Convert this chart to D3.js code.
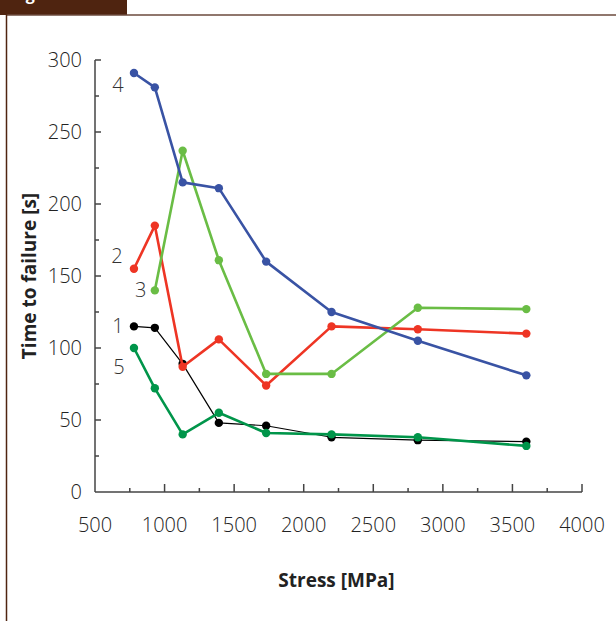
<!DOCTYPE html>
<html>
<head>
<meta charset="utf-8">
<script src="https://cdn.jsdelivr.net/npm/d3@7"></script>
<style>
    body { margin: 0; background: #fff; }
    svg { display: block; font-family: "Open Sans", sans-serif; }
</style>
</head>
<body>
<svg id="drawing_region"></svg>
<script>
// stress values [MPa] shared by all curves
const stress = [780, 930, 1130, 1390, 1730, 2200, 2820, 3600];

// time to failure [s], one array per curve (null = no point)
const series1 = [115, 114, 89, 48, 46, 38, 36, 35];
const series2 = [155, 185, 87, 106, 74, 115, 113, 110];
const series3 = [null, 140, 237, 161, 82, 82, 128, 127];
const series4 = [291, 281, 215, 211, 160, 125, 105, 81];
const series5 = [100, 72, 40, 55, 41, 40, 38, 32];

const series_names = ['1', '2', '3', '4', '5'];
const xticks = [500, 1000, 1500, 2000, 2500, 3000, 3500, 4000];
const yticks = [0, 50, 100, 150, 200, 250, 300];

const series_style = [
    { color: '#000000', width: 1.2, dx: -16, dy: 7 },
    { color: '#ee3524', width: 2.6, dx: -17, dy: -6 },
    { color: '#6abd45', width: 2.6, dx: -14, dy: 7 },
    { color: '#3953a4', width: 2.6, dx: -16, dy: 19 },
    { color: '#00954a', width: 2.6, dx: -15, dy: 26 }
];

class LinePlot {

    constructor( config, data ) {
        this.config = {
            parent: config.parent,
            width: config.width || 256,
            height: config.height || 256,
            margin: config.margin || {top:10, right:10, bottom:10, left:10}
        }
        this.data = data;
        this.init();
    }

    init() {
        let self = this;

        self.svg = d3.select( self.config.parent )
            .attr('width', self.config.width)
            .attr('height', self.config.height);

        // brown frame + tab (caption above is cut off in the original)
        self.svg.append('rect')
            .attr('x', 0).attr('y', 0)
            .attr('width', 127).attr('height', 15)
            .attr('fill', '#4f2410');
        self.svg.append('text')
            .attr('x', 12).attr('y', 0)
            .attr('fill', '#fff')
            .attr('font-weight', 700)
            .attr('font-size', 16)
            .text('Figure 2');
        self.svg.append('line')
            .attr('x1', 6).attr('x2', self.config.width)
            .attr('y1', 15).attr('y2', 15)
            .attr('stroke', '#6b4a3c').attr('stroke-width', 1.5);
        self.svg.append('line')
            .attr('x1', 6.5).attr('x2', 6.5)
            .attr('y1', 0).attr('y2', self.config.height)
            .attr('stroke', '#4f2410').attr('stroke-width', 1.5);

        self.chart = self.svg.append('g')
            .attr('transform', `translate(${self.config.margin.left}, ${self.config.margin.top})`);

        self.inner_width = self.config.width - self.config.margin.left - self.config.margin.right;
        self.inner_height = self.config.height - self.config.margin.top - self.config.margin.bottom;

        self.xscale = d3.scaleLinear()
            .domain( [500, 4000] )
            .range( [0, self.inner_width] );

        self.yscale = d3.scaleLinear()
            .domain( [0, 300] )
            .range( [self.inner_height, 0] );

        self.xaxis_group = self.chart.append('g')
            .attr('transform', `translate(0, ${self.inner_height})`);

        self.yaxis_group = self.chart.append('g');
    }

    update() {
        let self = this;
        self.render();
    }

    render() {
        let self = this;
        const axis_color = '#444';
        const tick_font = 20;

        // x axis: major ticks (with labels) and minor ticks, pointing up
        self.xaxis_group.append('line')
            .attr('x1', 0).attr('x2', self.inner_width)
            .attr('stroke', axis_color).attr('stroke-width', 1.5);
        const xminor = d3.range(750, 4000, 500);
        self.xaxis_group.selectAll('.xmaj')
            .data(xticks.slice(1))
            .join('line')
            .attr('x1', d => self.xscale(d)).attr('x2', d => self.xscale(d))
            .attr('y1', 0).attr('y2', -8)
            .attr('stroke', axis_color).attr('stroke-width', 1.5);
        self.xaxis_group.selectAll('.xmin')
            .data(xminor)
            .join('line')
            .attr('x1', d => self.xscale(d)).attr('x2', d => self.xscale(d))
            .attr('y1', 0).attr('y2', -4)
            .attr('stroke', axis_color).attr('stroke-width', 1.5);
        self.xaxis_group.selectAll('.xlab')
            .data(xticks)
            .join('text')
            .attr('x', d => self.xscale(d))
            .attr('y', 40)
            .attr('text-anchor', 'middle')
            .attr('font-size', tick_font)
            .attr('font-weight', 300)
            .attr('fill', '#222')
            .text(d => d);

        // y axis: ticks pointing right
        self.yaxis_group.append('line')
            .attr('y1', 0).attr('y2', self.inner_height)
            .attr('stroke', axis_color).attr('stroke-width', 1.5);
        const yminor = d3.range(25, 300, 50);
        self.yaxis_group.selectAll('.ymaj')
            .data(yticks.slice(1))
            .join('line')
            .attr('y1', d => self.yscale(d)).attr('y2', d => self.yscale(d))
            .attr('x1', 0).attr('x2', 6)
            .attr('stroke', axis_color).attr('stroke-width', 1.5);
        self.yaxis_group.selectAll('.ymin')
            .data(yminor)
            .join('line')
            .attr('y1', d => self.yscale(d)).attr('y2', d => self.yscale(d))
            .attr('x1', 0).attr('x2', 4)
            .attr('stroke', axis_color).attr('stroke-width', 1.5);
        self.yaxis_group.selectAll('.ylab')
            .data(yticks)
            .join('text')
            .attr('x', -13)
            .attr('y', d => self.yscale(d))
            .attr('dy', '0.35em')
            .attr('text-anchor', 'end')
            .attr('font-size', tick_font)
            .attr('font-weight', 300)
            .attr('fill', '#222')
            .text(d => d);

        // axis titles
        self.chart.append('text')
            .attr('x', self.inner_width / 2 - 2)
            .attr('y', self.inner_height + 95)
            .attr('text-anchor', 'middle')
            .attr('font-size', 19)
            .attr('font-weight', 700)
            .attr('fill', '#222')
            .text('Stress [MPa]');
        self.chart.append('text')
            .attr('transform', `translate(-59, ${self.inner_height / 2}) rotate(-90)`)
            .attr('text-anchor', 'middle')
            .attr('font-size', 19)
            .attr('font-weight', 700)
            .attr('fill', '#222')
            .text('Time to failure [s]');

        // curves
        const line = d3.line()
            .defined(d => d.y != null)
            .x(d => self.xscale(d.x))
            .y(d => self.yscale(d.y));

        const order = [0, 1, 2, 4, 3];
        order.forEach(i => {
            const s = self.data[i];
            const st = series_style[i];
            const pts = s.values.filter(d => d.y != null);
            const g = self.chart.append('g');
            g.append('path')
                .datum(s.values)
                .attr('d', line)
                .attr('fill', 'none')
                .attr('stroke', st.color)
                .attr('stroke-width', st.width)
                .attr('stroke-linejoin', 'round');
            g.selectAll('circle')
                .data(pts)
                .join('circle')
                .attr('cx', d => self.xscale(d.x))
                .attr('cy', d => self.yscale(d.y))
                .attr('r', 4.2)
                .style('fill', st.color);
            g.append('text')
                .attr('x', self.xscale(pts[0].x) + st.dx)
                .attr('y', self.yscale(pts[0].y) + st.dy)
                .attr('text-anchor', 'middle')
                .attr('font-size', 20)
                .attr('font-weight', 300)
                .attr('fill', '#333')
                .text(s.name);
        });
    }
}

const all_series = [series1, series2, series3, series4, series5];
const data = all_series.map((vals, i) => ({
    name: series_names[i],
    values: vals.map((v, j) => ({ x: stress[j], y: v }))
}));

var config = {
    parent: '#drawing_region',
    width: 616,
    height: 621,
    margin: {top:60, right:34, bottom:129, left:95}
};

const line_plot = new LinePlot( config, data );
line_plot.update();
</script>
</body>
</html>
